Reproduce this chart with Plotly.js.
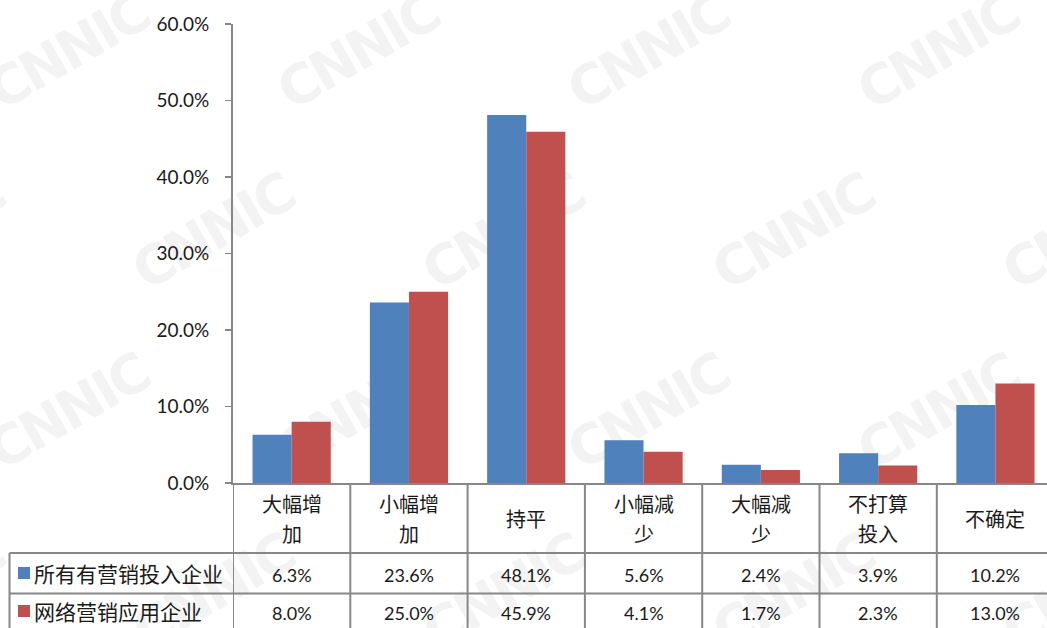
<!DOCTYPE html>
<html>
<head>
<meta charset="utf-8">
<script src="https://cdn.plot.ly/plotly-3.0.1.min.js"></script>
<style>
  html, body { margin: 0; padding: 0; background: #ffffff; }
  #chart { width: 1047px; height: 628px; }
</style>
</head>
<body>
<div id="chart"></div>
<script>
// Survey categories: planned change in marketing investment
const categories = ['大幅增加', '小幅增加', '持平', '小幅减少', '大幅减少', '不打算投入', '不确定'];

// Series names and shares (%)
const seriesNames = ['所有有营销投入企业', '网络营销应用企业'];
const allMarketingFirms = [6.3, 23.6, 48.1, 5.6, 2.4, 3.9, 10.2];
const onlineMarketingFirms = [8.0, 25.0, 45.9, 4.1, 1.7, 2.3, 13.0];

// Y axis ticks
const yTickValues = [0, 10, 20, 30, 40, 50, 60];

const seriesColors = ['#4F81BD', '#C0504D'];
const gridColor = '#878787';
const textColor = '#1a1a1a';
const latinFont = 'Lato, "Noto Sans CJK SC", sans-serif';
const cjkFont = '"Noto Sans CJK SC", Lato, sans-serif';

// Page geometry (pixels)
const W = 1047, H = 628;
const M = { l: 233, r: 0, t: 24, b: 145 };
const plotW = W - M.l - M.r;
const plotH = H - M.t - M.b;
const catWidthPx = 117.3;
const xMax = -0.5 + plotW / catWidthPx;

// pixel -> paper helpers for the data table under the plot
const px = x => (x - M.l) / plotW;
const py = y => (H - M.b - y) / plotH;

// Header labels wrap after three characters
const headerLines = categories.map(c => {
  const parts = [];
  for (let i = 0; i < c.length; i += 3) parts.push(c.slice(i, i + 3));
  return parts;
});

const seriesValues = [allMarketingFirms, onlineMarketingFirms];

const traces = seriesValues.map((vals, s) => ({
  type: 'bar',
  name: seriesNames[s],
  x: categories,
  y: vals,
  marker: { color: seriesColors[s], line: { width: 0 } },
  hoverinfo: 'x+y+name',
  showlegend: false
}));

// Faint CNNIC background pattern
function watermarkSvg() {
  let items = '';
  for (let row = 0; row < 4; row++) {
    for (let col = -1; col < 5; col++) {
      const cx = 70 + 290 * col + (row % 2) * 145;
      const cy = 55 + 180 * row;
      items += `<text x="${cx}" y="${cy}" transform="rotate(-30 ${cx} ${cy})" text-anchor="middle" dominant-baseline="middle">CNNIC</text>`;
    }
  }
  const svg = `<svg xmlns="http://www.w3.org/2000/svg" width="${W}" height="${H}" viewBox="0 0 ${W} ${H}">` +
    `<g font-family="DejaVu Sans, sans-serif" font-weight="bold" font-size="54" fill="#f3f3f3" letter-spacing="-3">${items}</g></svg>`;
  return 'data:image/svg+xml;charset=utf-8,' + encodeURIComponent(svg);
}

const shapes = [];
const annotations = [];
const tableBottom = py(H + 10);

// Vertical table rules at category boundaries
for (let i = 0; i < categories.length; i++) {
  shapes.push({
    type: 'line', xref: 'x', yref: 'paper',
    x0: i - 0.5, x1: i - 0.5, y0: 0, y1: tableBottom,
    line: { color: gridColor, width: 2 }
  });
}
// Left border of the series-name column
shapes.push({
  type: 'line', xref: 'paper', yref: 'paper',
  x0: px(9.5), x1: px(9.5), y0: py(553), y1: tableBottom,
  line: { color: gridColor, width: 2 }
});
// Horizontal rules between table rows
[553, 593.5].forEach(yy => {
  shapes.push({
    type: 'line', xref: 'paper', yref: 'paper',
    x0: px(9.5), x1: 1.02, y0: py(yy), y1: py(yy),
    line: { color: gridColor, width: 2 }
  });
});

// Category header row, one annotation per text line
headerLines.forEach((lines, i) => {
  const centers = lines.length === 1 ? [518] : [503.5, 533];
  lines.forEach((ln, k) => {
    annotations.push({
      xref: 'x', yref: 'paper', x: i, y: py(centers[k]),
      text: ln, showarrow: false, xanchor: 'center', yanchor: 'middle',
      borderpad: 0,
      font: { family: cjkFont, size: 20, color: textColor }
    });
  });
});

// Series rows: legend key, name and values
const rowCenters = [575, 613];
seriesValues.forEach((vals, s) => {
  const yc = rowCenters[s];
  shapes.push({
    type: 'rect', xref: 'paper', yref: 'paper',
    x0: px(18), x1: px(30), y0: py(yc - 8), y1: py(yc + 4),
    fillcolor: seriesColors[s], line: { width: 0 }
  });
  annotations.push({
    xref: 'paper', yref: 'paper', x: px(32), y: py(yc - 2),
    text: seriesNames[s], showarrow: false, xanchor: 'left', yanchor: 'middle',
    font: { family: cjkFont, size: 21, color: textColor }
  });
  vals.forEach((v, i) => {
    annotations.push({
      xref: 'x', yref: 'paper', x: i, y: py(yc),
      text: v.toFixed(1) + '%', showarrow: false, xanchor: 'center', yanchor: 'middle',
      font: { family: latinFont, size: 18, color: textColor }
    });
  });
});

const layout = {
  width: W, height: H,
  margin: M,
  paper_bgcolor: '#ffffff',
  plot_bgcolor: 'rgba(0,0,0,0)',
  barmode: 'group',
  bargap: 1 / 3,
  bargroupgap: 0,
  showlegend: false,
  xaxis: {
    type: 'category',
    range: [-0.5, xMax],
    showticklabels: false,
    ticks: '',
    showgrid: false,
    zeroline: false,
    showline: true,
    linecolor: gridColor,
    linewidth: 2,
    fixedrange: true
  },
  yaxis: {
    range: [0, 60],
    tickvals: yTickValues,
    ticktext: yTickValues.map(v => v.toFixed(1) + '%'),
    ticks: 'outside',
    ticklen: 6,
    tickwidth: 1.5,
    tickcolor: gridColor,
    ticklabelstandoff: 12,
    tickfont: { family: latinFont, size: 19, color: textColor },
    showgrid: false,
    zeroline: false,
    showline: true,
    linecolor: gridColor,
    linewidth: 2,
    fixedrange: true
  },
  images: [{
    source: watermarkSvg(),
    xref: 'paper', yref: 'paper',
    x: px(0), y: py(0),
    sizex: W / plotW, sizey: H / plotH,
    xanchor: 'left', yanchor: 'top',
    sizing: 'stretch',
    layer: 'below'
  }],
  shapes: shapes,
  annotations: annotations
};

Plotly.newPlot('chart', traces, layout, { displayModeBar: false, staticPlot: true });
</script>
</body>
</html>
